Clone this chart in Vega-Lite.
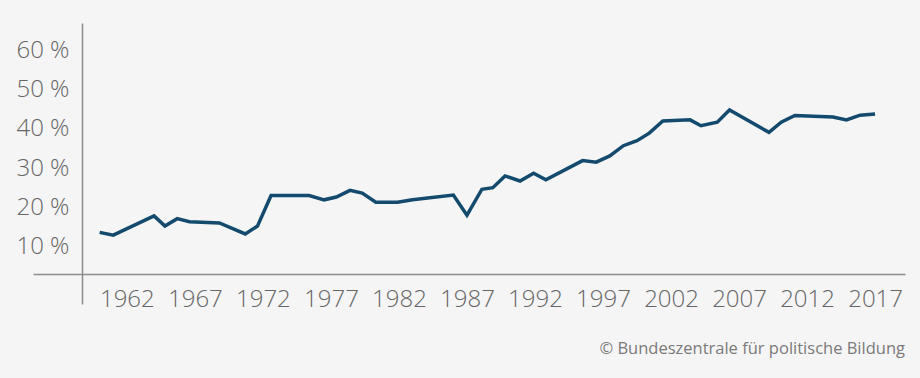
{
  "$schema": "https://vega.github.io/schema/vega-lite/v6.json",
  "width": 872,
  "height": 281,
  "autosize": {"type": "none"},
  "padding": {"left": 33, "top": 23, "right": 15, "bottom": 74},
  "background": "#f5f5f5",
  "config": {"view": {"stroke": null}},
  "title": {
    "text": "© Bundeszentrale für politische Bildung",
    "orient": "bottom",
    "anchor": "end",
    "font": "Open Sans",
    "fontSize": 16.5,
    "fontWeight": "normal",
    "color": "#7a7a7a",
    "offset": 30
  },
  "data": {
    "values": [
      {"jahr": 1960.0, "anteil": 13.6},
      {"jahr": 1961.0, "anteil": 12.9},
      {"jahr": 1964.0, "anteil": 17.8},
      {"jahr": 1964.8, "anteil": 15.2},
      {"jahr": 1965.7, "anteil": 17.1},
      {"jahr": 1966.6, "anteil": 16.3},
      {"jahr": 1968.8, "anteil": 16.0},
      {"jahr": 1970.7, "anteil": 13.2},
      {"jahr": 1971.6, "anteil": 15.2},
      {"jahr": 1972.6, "anteil": 23.0},
      {"jahr": 1975.4, "anteil": 23.0},
      {"jahr": 1976.5, "anteil": 21.9},
      {"jahr": 1977.4, "anteil": 22.6},
      {"jahr": 1978.4, "anteil": 24.3},
      {"jahr": 1979.3, "anteil": 23.6},
      {"jahr": 1980.3, "anteil": 21.3},
      {"jahr": 1981.9, "anteil": 21.3},
      {"jahr": 1983.0, "anteil": 21.9},
      {"jahr": 1986.0, "anteil": 23.1},
      {"jahr": 1987.0, "anteil": 18.0},
      {"jahr": 1988.1, "anteil": 24.6},
      {"jahr": 1988.9, "anteil": 25.0},
      {"jahr": 1989.8, "anteil": 28.0},
      {"jahr": 1990.9, "anteil": 26.7},
      {"jahr": 1991.9, "anteil": 28.7},
      {"jahr": 1992.8, "anteil": 27.0},
      {"jahr": 1995.5, "anteil": 31.9},
      {"jahr": 1996.5, "anteil": 31.5},
      {"jahr": 1997.5, "anteil": 33.1},
      {"jahr": 1998.5, "anteil": 35.7},
      {"jahr": 1999.5, "anteil": 37.0},
      {"jahr": 2000.4, "anteil": 38.9},
      {"jahr": 2001.4, "anteil": 42.0},
      {"jahr": 2003.4, "anteil": 42.3},
      {"jahr": 2004.2, "anteil": 40.8},
      {"jahr": 2005.4, "anteil": 41.7},
      {"jahr": 2006.3, "anteil": 44.8},
      {"jahr": 2009.2, "anteil": 39.1},
      {"jahr": 2010.1, "anteil": 41.7},
      {"jahr": 2011.1, "anteil": 43.4},
      {"jahr": 2013.9, "anteil": 43.0},
      {"jahr": 2014.9, "anteil": 42.3},
      {"jahr": 2015.9, "anteil": 43.5},
      {"jahr": 2017.0, "anteil": 43.8}
    ]
  },
  "mark": {"type": "line", "color": "#134a6e", "strokeWidth": 3.5},
  "encoding": {
    "x": {
      "field": "jahr",
      "type": "quantitative",
      "scale": {"domain": [1955.1, 2019.2], "nice": false, "zero": false},
      "axis": {
        "values": [1962, 1967, 1972, 1977, 1982, 1987, 1992, 1997, 2002, 2007, 2012, 2017],
        "format": "d",
        "offset": -30,
        "ticks": false,
        "grid": false,
        "title": null,
        "labelFont": "Open Sans",
        "labelFontSize": 24,
        "labelFontWeight": 300,
        "labelColor": "#666666",
        "labelPadding": 13,
        "labelOverlap": false,
        "labelFlush": false,
        "domainColor": "#8c8c8c",
        "domainWidth": 1.5
      }
    },
    "y": {
      "field": "anteil",
      "type": "quantitative",
      "scale": {"domain": [-4.67, 67.0], "nice": false, "zero": false},
      "axis": {
        "values": [10, 20, 30, 40, 50, 60],
        "labelExpr": "datum.value + ' %'",
        "offset": -49,
        "ticks": false,
        "grid": false,
        "title": null,
        "labelFont": "Open Sans",
        "labelFontSize": 24,
        "labelFontWeight": 300,
        "labelColor": "#666666",
        "labelPadding": 13,
        "labelOverlap": false,
        "domainColor": "#8c8c8c",
        "domainWidth": 1.5
      }
    }
  }
}
